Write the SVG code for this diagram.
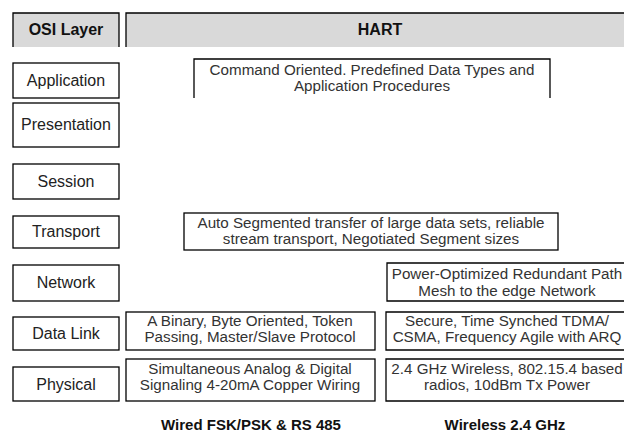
<svg xmlns="http://www.w3.org/2000/svg" width="624" height="432" viewBox="0 0 624 432">
  <style>
    .line { fill: none; stroke: #000; stroke-width: 1.3; }
    .box { fill: #fff; stroke: #000; stroke-width: 1.3; }
    .hdrtxt { font-family: "Liberation Sans", Arial, sans-serif; font-size: 16px; font-weight: bold; fill: #111; text-anchor: middle; }
    .layer { font-family: "Liberation Sans", Arial, sans-serif; font-size: 16px; fill: #222; text-anchor: middle; }
    .desc { font-family: "Liberation Sans", Arial, sans-serif; font-size: 15.2px; fill: #333; text-anchor: middle; }
    .foot { font-family: "Liberation Sans", Arial, sans-serif; font-size: 15px; font-weight: bold; fill: #111; text-anchor: middle; }
  </style>

  <rect width="624" height="432" fill="#fff"/>

  <!-- column headers -->
  <g id="hdr-osi">
    <rect x="13" y="13" width="106" height="34" fill="#d9d9d9"/>
    <path class="line" d="M13,47 V13 H119 V47"/>
    <text class="hdrtxt" x="66" y="35">OSI Layer</text>
  </g>
  <g id="hdr-hart">
    <rect x="126" y="13" width="498" height="34" fill="#d9d9d9"/>
    <path class="line" d="M126,47 V13 H624"/>
    <text class="hdrtxt" x="380" y="35">HART</text>
  </g>

  <!-- OSI layer stack -->
  <g id="layer-application">
    <rect class="box" x="13" y="63" width="106" height="35"/>
    <text class="layer" x="66" y="86">Application</text>
  </g>
  <g id="layer-presentation">
    <rect class="box" x="13" y="103" width="106" height="44"/>
    <text class="layer" x="66" y="130">Presentation</text>
  </g>
  <g id="layer-session">
    <rect class="box" x="13" y="164" width="106" height="35"/>
    <text class="layer" x="66" y="187">Session</text>
  </g>
  <g id="layer-transport">
    <rect class="box" x="13" y="216" width="106" height="32"/>
    <text class="layer" x="66" y="237">Transport</text>
  </g>
  <g id="layer-network">
    <rect class="box" x="13" y="265" width="106" height="36"/>
    <text class="layer" x="66" y="288">Network</text>
  </g>
  <g id="layer-datalink">
    <rect class="box" x="13" y="317" width="106" height="33"/>
    <text class="layer" x="66" y="339">Data Link</text>
  </g>
  <g id="layer-physical">
    <rect class="box" x="13" y="367" width="106" height="34"/>
    <text class="layer" x="66" y="390">Physical</text>
  </g>

  <!-- HART descriptions -->
  <g id="hart-application">
    <path class="line" d="M194,98 V59 H550 V98"/>
    <text class="desc" x="372" y="75">Command Oriented. Predefined Data Types and</text>
    <text class="desc" x="372" y="91">Application Procedures</text>
  </g>
  <g id="hart-transport">
    <rect class="box" x="184" y="213" width="374" height="37"/>
    <text class="desc" x="371" y="228">Auto Segmented transfer of large data sets, reliable</text>
    <text class="desc" x="371" y="244">stream transport, Negotiated Segment sizes</text>
  </g>
  <g id="hart-network">
    <path class="line" d="M624,263 H387 V301 H624"/>
    <text class="desc" x="507" y="279">Power-Optimized Redundant Path</text>
    <text class="desc" x="507" y="296">Mesh to the edge Network</text>
  </g>
  <g id="wired-datalink">
    <rect class="box" x="126" y="312" width="249" height="38"/>
    <text class="desc" x="250" y="326">A Binary, Byte Oriented, Token</text>
    <text class="desc" x="250" y="342">Passing, Master/Slave Protocol</text>
  </g>
  <g id="wireless-datalink">
    <path class="line" d="M624,312 H386 V350 H624"/>
    <text class="desc" x="507" y="326">Secure, Time Synched TDMA/</text>
    <text class="desc" x="507" y="342">CSMA, Frequency Agile with ARQ</text>
  </g>
  <g id="wired-physical">
    <rect class="box" x="126" y="359" width="249" height="42"/>
    <text class="desc" x="250" y="374">Simultaneous Analog &amp; Digital</text>
    <text class="desc" x="250" y="390">Signaling 4-20mA Copper Wiring</text>
  </g>
  <g id="wireless-physical">
    <path class="line" d="M624,359 H386 V401 H624"/>
    <text class="desc" x="507" y="374">2.4 GHz Wireless, 802.15.4 based</text>
    <text class="desc" x="507" y="390">radios, 10dBm Tx Power</text>
  </g>

  <!-- column footers -->
  <g id="footers">
    <text class="foot" x="251" y="430">Wired FSK/PSK &amp; RS 485</text>
    <text class="foot" x="505" y="430">Wireless 2.4 GHz</text>
  </g>

  <g id="connectors"/>
</svg>
